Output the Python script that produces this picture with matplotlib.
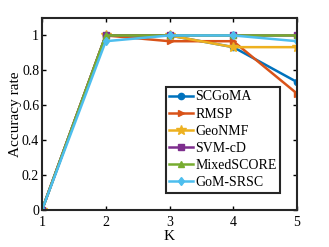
import matplotlib.pyplot as plt

K = [1, 2, 3, 4, 5]
scgoma = [0, 1, 1, 0.933, 0.733]
rmsp = [0, 1, 0.967, 0.967, 0.667]
geonmf = [0, 1, 1, 0.933, 0.933]
svmcd = [0, 1, 1, 1, 1]
mixedscore = [0, 1, 1, 1, 1]
gomsrsc = [0, 0.967, 1, 1, 0.967]

plt.rcParams['font.family'] = ['Liberation Serif']

fig = plt.figure(figsize=(3.29, 2.47), dpi=100)
ax = fig.add_axes([42/329, 1 - 210/247, 255/329, 192/247])

ax.plot(K, scgoma, color='#0072BD', marker='o', ms=4.5, lw=1.8, label='SCGoMA')
ax.plot(K, rmsp, color='#D95319', marker='>', ms=4.5, lw=1.8, label='RMSP')
ax.plot(K, geonmf, color='#EDB120', marker='*', ms=7, lw=1.8, label='GeoNMF')
ax.plot(K, svmcd, color='#7E2F8E', marker='s', ms=4, lw=1.8, label='SVM-cD')
ax.plot(K, mixedscore, color='#77AC30', marker='^', ms=4.5, lw=1.8, label='MixedSCORE')
ax.plot(K, gomsrsc, color='#4DBEEE', marker='d', ms=4.5, lw=1.8, label='GoM-SRSC')

ax.set_xlim(1, 5)
ax.set_ylim(0, 1.1)
ax.set_xticks(K)
ax.set_yticks([0, 0.2, 0.4, 0.6, 0.8, 1])
ax.set_yticklabels(['0', '0.2', '0.4', '0.6', '0.8', '1'])
ax.tick_params(direction='in', labelsize=10, length=3, width=1, pad=2, top=True, right=True)
ax.tick_params(axis='x', pad=4)
for s in ax.spines.values():
    s.set_linewidth(1.5)
    s.set_color('#262626')
ax.set_xlabel('K', fontsize=11, labelpad=1)
ax.set_ylabel('Accuracy rate', fontsize=11, labelpad=0)

leg = ax.legend(loc='lower right', bbox_to_anchor=(0.935, 0.09), fontsize=10, fancybox=False,
                framealpha=1, edgecolor='#262626', handlelength=1.7, handletextpad=0.2,
                borderpad=0.25, labelspacing=0.3, borderaxespad=0)
leg.get_frame().set_linewidth(1.5)

fig.savefig('out.png', dpi=100)
